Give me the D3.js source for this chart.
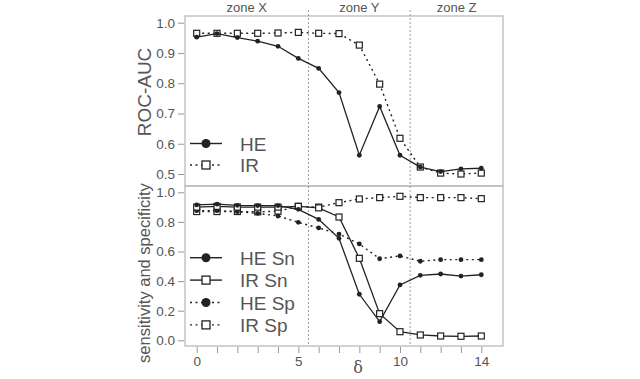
<!DOCTYPE html>
<html>
<head>
<meta charset="utf-8">
<script src="https://cdn.jsdelivr.net/npm/d3@7"></script>
<style>
  body { margin: 0; background: #fff; }
  text { font-family: "Liberation Sans", Arial, sans-serif; fill: #555; }
</style>
</head>
<body>
<div id="chart"></div>
<script>
// delta values on the x axis
const delta = [0, 1, 2, 3, 4, 5, 6, 7, 8, 9, 10, 11, 12, 13, 14];

// top panel: ROC-AUC
const aucHE = [0.952, 0.964, 0.951, 0.939, 0.922, 0.882, 0.849, 0.769, 0.562, 0.723, 0.562, 0.523, 0.508, 0.517, 0.519];
const aucIR = [0.965, 0.965, 0.965, 0.965, 0.966, 0.968, 0.965, 0.964, 0.926, 0.797, 0.618, 0.523, 0.503, 0.500, 0.503];

// bottom panel: sensitivity / specificity
const snHE = [0.915, 0.92, 0.912, 0.91, 0.91, 0.885, 0.817, 0.689, 0.311, 0.126, 0.374, 0.439, 0.448, 0.434, 0.443];
const snIR = [0.90, 0.905, 0.90, 0.90, 0.90, 0.905, 0.895, 0.833, 0.554, 0.180, 0.058, 0.036, 0.029, 0.027, 0.029];
const spHE = [0.876, 0.876, 0.869, 0.858, 0.840, 0.797, 0.759, 0.718, 0.651, 0.551, 0.570, 0.534, 0.545, 0.545, 0.545];
const spIR = [0.87, 0.87, 0.87, 0.868, 0.872, 0.905, 0.90, 0.930, 0.955, 0.964, 0.973, 0.964, 0.964, 0.964, 0.957];

const zoneBreaks = [5.5, 10.5];
const zoneNames = ["zone X", "zone Y", "zone Z"];
const topTicks = [0.5, 0.6, 0.7, 0.8, 0.9, 1.0];
const botTicks = [0, 0.2, 0.4, 0.6, 0.8, 1.0];
const xLabels = [0, 5, 10, 14];

const W = 640, H = 379;
const box = { left: 185, right: 503, top: 16, mid: 186, bottom: 346 };

const svg = d3.select("#chart").append("svg")
  .attr("width", W).attr("height", H);

const x = d3.scaleLinear().domain([0, 14]).range([196.7, 481.3]);
const yTop = d3.scaleLinear().domain([0.5, 1.0]).range([174, 22.7]);
const yBot = d3.scaleLinear().domain([0, 1.0]).range([340.3, 192.3]);

const ink = "#222";
const grey = "#bbb";

// frames
[[box.top, box.mid], [box.mid, box.bottom]].forEach(([t, b]) => {
  svg.append("rect")
    .attr("x", box.left).attr("y", t)
    .attr("width", box.right - box.left).attr("height", b - t)
    .attr("fill", "none").attr("stroke", grey).attr("stroke-width", 1.3);
});

// zone separators
svg.selectAll(".zone-line")
  .data(zoneBreaks)
  .join("line")
  .attr("x1", d => x(d)).attr("x2", d => x(d))
  .attr("y1", 10).attr("y2", box.bottom)
  .attr("stroke", "#888").attr("stroke-width", 0.8)
  .attr("stroke-dasharray", "2,2");

const zoneEdges = [box.left, x(zoneBreaks[0]), x(zoneBreaks[1]), box.right];
svg.selectAll(".zone-label")
  .data(zoneNames)
  .join("text")
  .attr("x", (d, i) => (zoneEdges[i] + zoneEdges[i + 1]) / 2)
  .attr("y", 12)
  .attr("text-anchor", "middle")
  .style("font-size", "13px")
  .text(d => d);

// y axes
function yAxis(scale, ticks, fmt) {
  const g = svg.append("g").attr("transform", `translate(${box.left - 1},0)`);
  g.call(d3.axisLeft(scale).tickValues(ticks).tickFormat(d3.format(fmt)).tickSize(6).tickPadding(3));
  g.select(".domain").remove();
  g.selectAll(".tick line").attr("stroke", "#999");
  g.selectAll(".tick text").style("font-size", "13.5px").attr("fill", "#666")
    .style("font-family", "Liberation Sans, Arial, sans-serif");
}
yAxis(yTop, topTicks, ".1f");
yAxis(yBot, botTicks, ".1f");

// x axis
const gx = svg.append("g").attr("transform", `translate(0,${box.bottom + 1})`);
gx.call(d3.axisBottom(x).tickValues(delta).tickFormat(d => xLabels.includes(d) ? d : "").tickSize(6).tickPadding(3));
gx.select(".domain").remove();
gx.selectAll(".tick line").attr("stroke", "#999");
gx.selectAll(".tick text").style("font-size", "13.5px").attr("fill", "#666")
  .style("font-family", "Liberation Sans, Arial, sans-serif");

svg.append("text")
  .attr("x", 358).attr("y", 373)
  .attr("text-anchor", "middle")
  .style("font-size", "16px")
  .style("font-family", "DejaVu Serif, serif")
  .text("δ");

// y titles
svg.append("text")
  .attr("transform", `translate(151,92) rotate(-90)`)
  .attr("text-anchor", "middle")
  .style("font-size", "19px")
  .text("ROC-AUC");
svg.append("text")
  .attr("transform", `translate(150,${(box.mid + box.bottom) / 2 + 7}) rotate(-90)`)
  .attr("text-anchor", "middle")
  .style("font-size", "16.5px")
  .text("sensitivity and specificity");

// series
function drawSeries(values, y, dotted, marker) {
  const pts = delta.map((d, i) => [d, values[i]]);
  const line = d3.line().x(d => x(d[0])).y(d => y(d[1]));
  svg.append("path")
    .datum(pts)
    .attr("d", line)
    .attr("fill", "none")
    .attr("stroke", ink)
    .attr("stroke-width", dotted ? 1.4 : 1.3)
    .attr("stroke-dasharray", dotted ? "2,3.5" : null);
  if (marker === "circle") {
    svg.append("g").selectAll("circle")
      .data(pts).join("circle")
      .attr("cx", d => x(d[0])).attr("cy", d => y(d[1]))
      .attr("r", 2.4).attr("fill", ink);
  } else {
    svg.append("g").selectAll("rect")
      .data(pts).join("rect")
      .attr("x", d => x(d[0]) - 3).attr("y", d => y(d[1]) - 3)
      .attr("width", 6).attr("height", 6)
      .attr("fill", "#fff").attr("stroke", ink).attr("stroke-width", 1.2);
  }
}

drawSeries(aucIR, yTop, true, "square");
drawSeries(aucHE, yTop, false, "circle");

drawSeries(spIR, yBot, true, "square");
drawSeries(spHE, yBot, true, "circle");
drawSeries(snIR, yBot, false, "square");
drawSeries(snHE, yBot, false, "circle");

// legends
function legend(items, x0, y0, step) {
  items.forEach((it, i) => {
    const yy = y0 + i * step;
    svg.append("line")
      .attr("x1", x0).attr("x2", x0 + 32)
      .attr("y1", yy).attr("y2", yy)
      .attr("stroke", ink).attr("stroke-width", 1.4)
      .attr("stroke-dasharray", it.dotted ? "2,3.5" : null);
    if (it.marker === "circle") {
      svg.append("circle").attr("cx", x0 + 16).attr("cy", yy).attr("r", 4.5).attr("fill", ink);
    } else {
      svg.append("rect").attr("x", x0 + 12).attr("y", yy - 4).attr("width", 8).attr("height", 8)
        .attr("fill", "#fff").attr("stroke", ink).attr("stroke-width", 1.3);
    }
    svg.append("text")
      .attr("x", x0 + 50).attr("y", yy + 7)
      .style("font-size", "19px")
      .text(it.label);
  });
}

legend([
  { label: "HE", dotted: false, marker: "circle" },
  { label: "IR", dotted: true, marker: "square" }
], 190, 143.5, 21.5);

legend([
  { label: "HE Sn", dotted: false, marker: "circle" },
  { label: "IR Sn", dotted: false, marker: "square" },
  { label: "HE Sp", dotted: true, marker: "circle" },
  { label: "IR Sp", dotted: true, marker: "square" }
], 190, 257.7, 22.4);
</script>
</body>
</html>
